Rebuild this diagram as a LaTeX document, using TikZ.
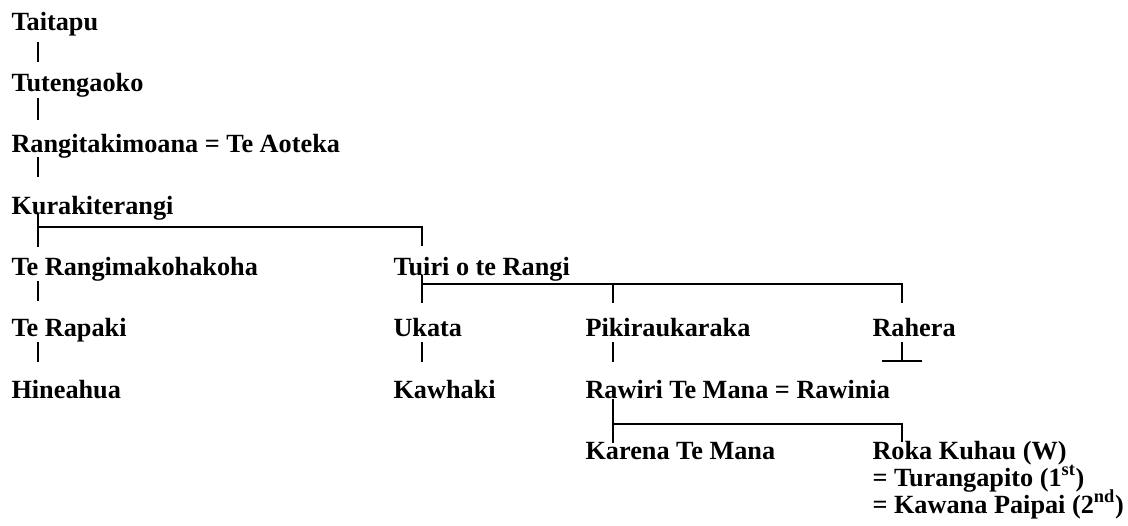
\documentclass[tikz,border=0pt]{standalone}
\usepackage{fontspec}
\setmainfont{Liberation Serif}
\begin{document}
\begin{tikzpicture}[x=0.75pt,y=-0.75pt,
  person/.style={anchor=base west,inner sep=0pt,outer sep=0pt,font=\fontsize{19.7}{23}\selectfont\bfseries},
  link/.style={line width=1.5pt}]
\useasboundingbox (0,0) rectangle (1128,525);
% people
\node[person] (taitapu)    at (11.5,30)  {Taitapu};
\node[person] (tutengaoko) at (11.5,91)  {Tutengaoko};
\node[person] (rangi)      at (11.5,152) {Rangitakimoana = Te Aoteka};
\node[person] (kura)       at (11.5,214) {Kurakiterangi};
\node[person] (terangi)    at (11.5,275) {Te Rangimakohakoha};
\node[person] (tuiri)      at (393.5,275) {Tuiri o te Rangi};
\node[person] (terapaki)   at (11.5,336) {Te Rapaki};
\node[person] (ukata)      at (393.5,336) {Ukata};
\node[person] (pikirau)    at (585.5,336) {Pikiraukaraka};
\node[person] (rahera)     at (872.5,336) {Rahera};
\node[person] (hineahua)   at (11.5,398) {Hineahua};
\node[person] (kawhaki)    at (393.5,398) {Kawhaki};
\node[person] (rawiri)     at (585.5,398) {Rawiri Te Mana = Rawinia};
\node[person] (karena)     at (585.5,459) {Karena Te Mana};
\node[person] (roka)       at (872.5,459) {Roka Kuhau (W)};
\node[person] (turanga)    at (872.5,486) {= Turangapito (1\textsuperscript{st})};
\node[person] (kawana)     at (872.5,513) {= Kawana Paipai (2\textsuperscript{nd})};
% connectors, first column
\draw[link] ([shift={(26,12)}]taitapu.base west) -- ([shift={(26,-29)}]tutengaoko.base west);
\draw[link] ([shift={(26,7)}]tutengaoko.base west) -- ([shift={(26,-32)}]rangi.base west);
\draw[link] ([shift={(26,5)}]rangi.base west) -- ([shift={(26,-37)}]kura.base west);
\draw[link] ([shift={(26,-1)}]kura.base west) -- ([shift={(26,-28)}]terangi.base west);
\draw[link] ([shift={(26,13)}]kura.base west) -| ([shift={(28.5,-29)}]tuiri.base west);
\draw[link] ([shift={(26,6)}]terangi.base west) -- ([shift={(26,-35)}]terapaki.base west);
\draw[link] ([shift={(26,6)}]terapaki.base west) -- ([shift={(26,-36)}]hineahua.base west);
% Tuiri o te Rangi
\draw[link] ([shift={(28.5,0)}]tuiri.base west) -- ([shift={(28.5,-33)}]ukata.base west);
\draw[link] ([shift={(28.5,9)}]tuiri.base west) -| ([shift={(29.5,-33)}]rahera.base west);
\draw[link] ([shift={(27.5,-52)}]pikirau.base west) -- ([shift={(27.5,-33)}]pikirau.base west);
\draw[link] ([shift={(28.5,6)}]ukata.base west) -- ([shift={(28.5,-36)}]kawhaki.base west);
\draw[link] ([shift={(27.5,6)}]pikirau.base west) -- ([shift={(27.5,-36)}]rawiri.base west);
% Rahera, no issue
\draw[link] ([shift={(29.5,6)}]rahera.base west) -- ++(0,19);
\draw[link] ([shift={(9.5,25)}]rahera.base west) -- ++(40,0);
% Rawiri Te Mana
\draw[link] ([shift={(27.5,1)}]rawiri.base west) -- ([shift={(27.5,-16)}]karena.base west);
\draw[link] ([shift={(27.5,26)}]rawiri.base west) -| ([shift={(29.5,-17)}]roka.base west);
\end{tikzpicture}
\end{document}
